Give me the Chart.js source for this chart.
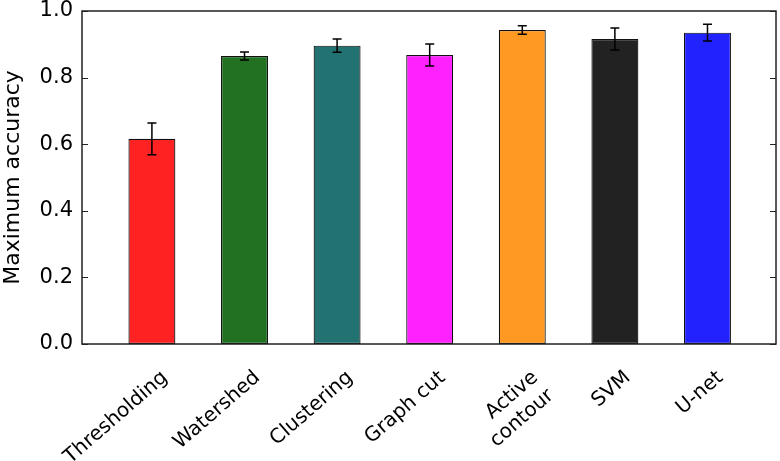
<!DOCTYPE html>
<html>
<head>
<meta charset="utf-8">
<script src="https://cdn.jsdelivr.net/npm/chart.js@4.4.1/dist/chart.umd.min.js"></script>
<style>
  body { margin: 0; background: #fff; }
  #wrap { width: 780px; height: 461px; }
</style>
</head>
<body>
<div id="wrap"><canvas id="accChart"></canvas></div>
<script>
// data
const methods = ['Thresholding', 'Watershed', 'Clustering', 'Graph cut', ['Active', 'contour'], 'SVM', 'U-net'];
const accuracy = [0.616, 0.865, 0.896, 0.868, 0.943, 0.916, 0.935];
const accErr = [0.048, 0.012, 0.020, 0.033, 0.013, 0.033, 0.025];
const barColors = ['#ff2222', '#227022', '#227272', '#ff22ff', '#ff9922', '#222222', '#2222ff'];
const yTicks = [0, 0.2, 0.4, 0.6, 0.8, 1.0];

const FONT = 'DejaVu Sans';

// error bars + box frame + inward tick marks
const extrasPlugin = {
    id: 'extras',
    afterDatasetsDraw(chart) {
        const ctx = chart.ctx;
        const xs = chart.scales.x;
        const ys = chart.scales.y;
        ctx.save();
        ctx.strokeStyle = '#000';
        ctx.lineWidth = 1.5;
        accuracy.forEach((v, i) => {
            const x = xs.getPixelForValue(i);
            const top = ys.getPixelForValue(v + accErr[i]);
            const bot = ys.getPixelForValue(v - accErr[i]);
            ctx.beginPath();
            ctx.moveTo(x, top);
            ctx.lineTo(x, bot);
            ctx.moveTo(x - 4.5, top);
            ctx.lineTo(x + 4.5, top);
            ctx.moveTo(x - 4.5, bot);
            ctx.lineTo(x + 4.5, bot);
            ctx.stroke();
        });
        const a = chart.chartArea;
        ctx.strokeStyle = '#222';
        ctx.lineWidth = 1.5;
        ctx.strokeRect(a.left, a.top, a.right - a.left, a.bottom - a.top);
        ctx.lineWidth = 1;
        ctx.beginPath();
        yTicks.forEach(t => {
            const y = Math.round(ys.getPixelForValue(t)) + 0.5;
            ctx.moveTo(a.left, y);
            ctx.lineTo(a.left + 6, y);
            ctx.moveTo(a.right, y);
            ctx.lineTo(a.right - 6, y);
        });
        ctx.stroke();
        ctx.restore();
    }
};

const ctx = document.getElementById('accChart').getContext('2d');
const accChart = new Chart(ctx, {
    type: 'bar',
    data: {
        datasets: [{
            data: accuracy.map((v, i) => ({ x: i, y: v })),
            backgroundColor: barColors,
            borderColor: '#111',
            borderWidth: 1.2,
            borderSkipped: false,
            barPercentage: 0.507,
            categoryPercentage: 1
        }]
    },
    options: {
        responsive: true,
        maintainAspectRatio: false,
        animation: false,
        layout: { padding: { top: 11, right: 4, left: 0, bottom: 0 } },
        plugins: {
            legend: { display: false },
            tooltip: { enabled: false }
        },
        scales: {
            x: {
                type: 'linear',
                offset: false,
                min: -0.755,
                max: 6.74,
                grid: { display: false, drawTicks: false, offset: false },
                border: { display: false },
                afterBuildTicks: axis => {
                    axis.ticks = methods.map((m, i) => ({ value: i }));
                },
                afterFit: axis => {
                    axis.height = 117;
                    axis.paddingLeft = 0;
                    axis.paddingRight = 0;
                },
                ticks: {
                    autoSkip: false,
                    minRotation: 41,
                    maxRotation: 41,
                    padding: 22,
                    labelOffset: 13,
                    color: '#000',
                    font: { family: FONT, size: 20 },
                    callback: v => methods[v]
                }
            },
            y: {
                min: 0,
                max: 1,
                grid: { display: false, drawTicks: false },
                border: { display: false },
                afterBuildTicks: axis => {
                    axis.ticks = yTicks.map(v => ({ value: v }));
                },
                afterFit: axis => {
                    axis.width = 82;
                    axis.paddingTop = 0;
                    axis.paddingBottom = 0;
                },
                ticks: {
                    padding: 9,
                    color: '#000',
                    font: { family: FONT, size: 21 },
                    callback: v => v.toFixed(1)
                },
                title: {
                    display: true,
                    text: 'Maximum accuracy',
                    color: '#000',
                    font: { family: FONT, size: 22 },
                    padding: { top: 0, bottom: 0 }
                }
            }
        }
    },
    plugins: [extrasPlugin]
});
</script>
</body>
</html>
